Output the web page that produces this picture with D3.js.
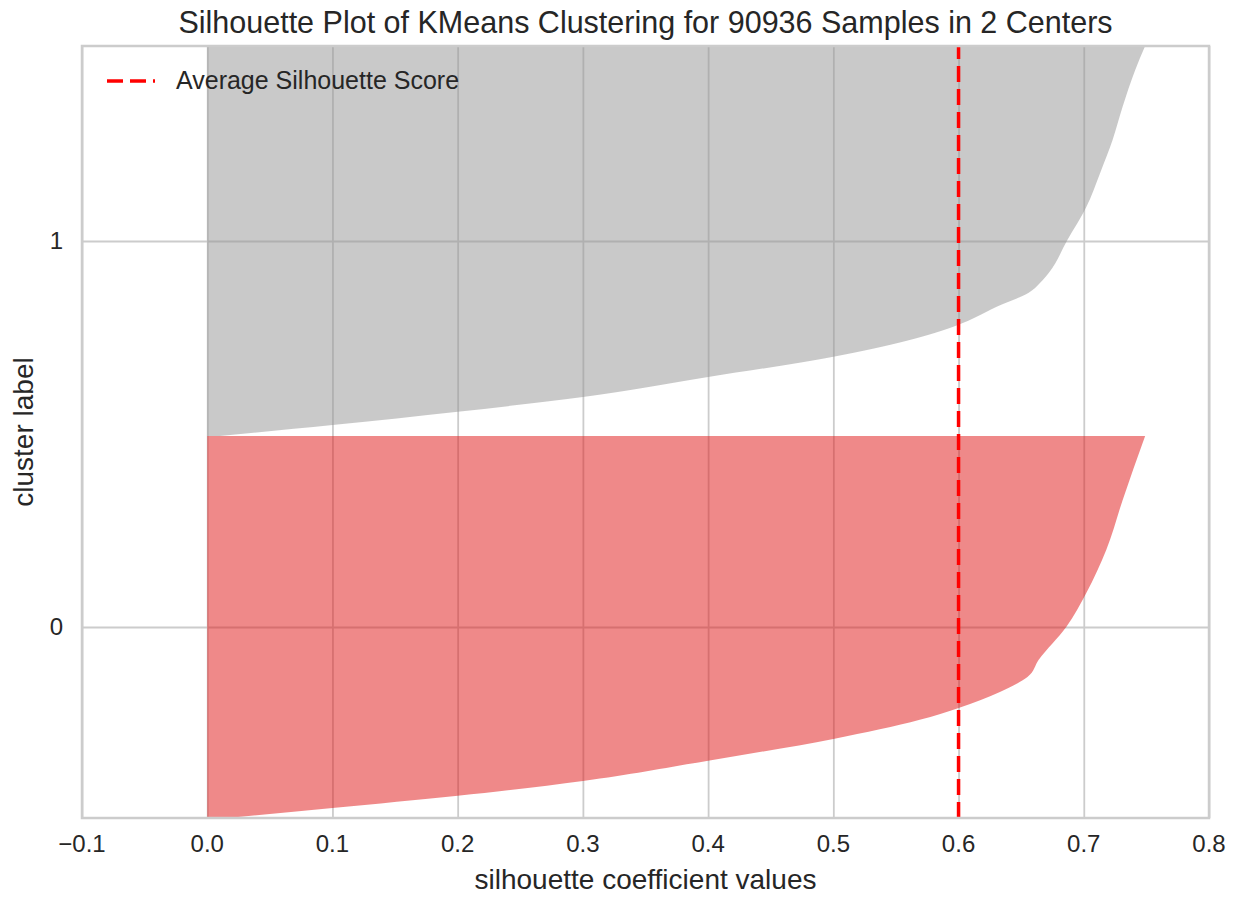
<!DOCTYPE html>
<html>
<head>
<meta charset="utf-8">
<script src="https://cdn.jsdelivr.net/npm/d3@7"></script>
<style>
  html, body { margin: 0; padding: 0; background: #ffffff; }
  svg { display: block; font-family: "Liberation Sans", Arial, sans-serif; }
</style>
</head>
<body>
<svg id="chart" width="1239" height="898"></svg>
<script>
// ---- data ----
const titleText = "Silhouette Plot of KMeans Clustering for 90936 Samples in 2 Centers";
const xLabelText = "silhouette coefficient values";
const yLabelText = "cluster label";
const legendLabel = "Average Silhouette Score";
const clusterLabels = ["0", "1"];
const clusterSizes = [45000, 45936];
const xTicks = [-0.1, 0.0, 0.1, 0.2, 0.3, 0.4, 0.5, 0.6, 0.7, 0.8];
const avgScore = 0.6;
// sorted silhouette values sampled at rank fraction within each cluster
const cluster0Frac = [0, 0.026, 0.058, 0.097, 0.15, 0.207, 0.257, 0.288, 0.33, 0.369, 0.414, 0.5, 0.589, 0.702, 0.832, 1.0];
const cluster0Sil  = [0.015, 0.1, 0.2, 0.3, 0.4, 0.5, 0.569, 0.6, 0.633, 0.655, 0.664, 0.686, 0.702, 0.718, 0.731, 0.749];
const cluster1Frac = [0, 0.028, 0.062, 0.1, 0.151, 0.203, 0.285, 0.305, 0.331, 0.367, 0.392, 0.418, 0.503, 0.587, 0.674, 0.759, 0.844, 0.938, 1.0];
const cluster1Sil  = [0.01, 0.1, 0.2, 0.3, 0.4, 0.5, 0.6, 0.614, 0.63, 0.656, 0.665, 0.672, 0.687, 0.702, 0.713, 0.723, 0.731, 0.741, 0.749];
const clusterColors = ["#df1313", "#939393"];

// ---- layout ----
const svg = d3.select("#chart");
const plot = { left: 82, right: 1209, top: 46, bottom: 818 };
const textColor = "#262626";
const gridColor = "#cccccc";

const total = d3.sum(clusterSizes);
const x = d3.scaleLinear().domain([-0.1, 0.8]).range([plot.left, plot.right]);
const y = d3.scaleLinear().domain([0, total]).range([plot.bottom, plot.top]);

const offsets = [0, clusterSizes[0]];
const yTickVals = clusterSizes.map((s, i) => offsets[i] + s / 2);

// background
svg.append("rect").attr("x", plot.left).attr("y", plot.top)
  .attr("width", plot.right - plot.left).attr("height", plot.bottom - plot.top)
  .attr("fill", "#ffffff");

// grid
const gx = svg.append("g").attr("transform", `translate(0,${plot.bottom})`)
  .call(d3.axisBottom(x).tickValues(xTicks).tickSize(-(plot.bottom - plot.top)).tickFormat(""));
gx.select(".domain").remove();
gx.selectAll("line").attr("stroke", gridColor).attr("stroke-width", 1.8);

const gy = svg.append("g").attr("transform", `translate(${plot.left},0)`)
  .call(d3.axisLeft(y).tickValues(yTickVals).tickSize(-(plot.right - plot.left)).tickFormat(""));
gy.select(".domain").remove();
gy.selectAll("line").attr("stroke", gridColor).attr("stroke-width", 1.8);

// silhouette areas
const clusters = [
  { frac: cluster0Frac, sil: cluster0Sil },
  { frac: cluster1Frac, sil: cluster1Sil }
];
svg.append("clipPath").attr("id", "plotclip").append("rect")
  .attr("x", plot.left).attr("y", plot.top)
  .attr("width", plot.right - plot.left).attr("height", plot.bottom - plot.top);

const area = d3.area()
  .curve(d3.curveMonotoneY)
  .y(d => y(d.n))
  .x0(x(0))
  .x1(d => x(d.v));

clusters.forEach((c, i) => {
  const pts = c.frac.map((f, j) => ({ n: offsets[i] + f * clusterSizes[i], v: c.sil[j] }));
  svg.append("path")
    .datum(pts)
    .attr("d", area)
    .attr("fill", clusterColors[i])
    .attr("fill-opacity", 0.5)
    .attr("clip-path", "url(#plotclip)");
});

// average line
svg.append("line")
  .attr("x1", x(avgScore)).attr("x2", x(avgScore))
  .attr("y1", plot.bottom).attr("y2", plot.top)
  .attr("stroke", "#ff0000").attr("stroke-width", 3.5)
  .attr("stroke-dasharray", "16,7");

// frame
svg.append("rect").attr("x", plot.left).attr("y", plot.top)
  .attr("width", plot.right - plot.left).attr("height", plot.bottom - plot.top)
  .attr("fill", "none").attr("stroke", gridColor).attr("stroke-width", 2.5);

// x tick labels
const fmt = d => (d < 0 ? "\u2212" : "") + Math.abs(d).toFixed(1);
svg.append("g").selectAll("text").data(xTicks).join("text")
  .attr("x", d => x(d)).attr("y", 852)
  .attr("text-anchor", "middle").attr("font-size", 24).attr("fill", textColor)
  .text(fmt);

// y tick labels
svg.append("g").selectAll("text").data(yTickVals).join("text")
  .attr("x", 63).attr("y", d => y(d) + 8.5)
  .attr("text-anchor", "end").attr("font-size", 24).attr("fill", textColor)
  .text((d, i) => clusterLabels[i]);

// axis labels
svg.append("text").attr("x", (plot.left + plot.right) / 2).attr("y", 889)
  .attr("text-anchor", "middle").attr("font-size", 28).attr("fill", textColor)
  .text(xLabelText);
svg.append("text")
  .attr("transform", `translate(33,${(plot.top + plot.bottom) / 2}) rotate(-90)`)
  .attr("text-anchor", "middle").attr("font-size", 28).attr("fill", textColor)
  .text(yLabelText);

// title
svg.append("text").attr("x", (plot.left + plot.right) / 2).attr("y", 33)
  .attr("text-anchor", "middle").attr("font-size", 30.5).attr("fill", textColor)
  .text(titleText);

// legend
const lg = svg.append("g");
lg.append("line").attr("x1", 107).attr("x2", 155).attr("y1", 81).attr("y2", 81)
  .attr("stroke", "#ff0000").attr("stroke-width", 3.5).attr("stroke-dasharray", "16,7");
lg.append("text").attr("x", 176).attr("y", 89)
  .attr("font-size", 25).attr("fill", textColor).text(legendLabel);
</script>
</body>
</html>
